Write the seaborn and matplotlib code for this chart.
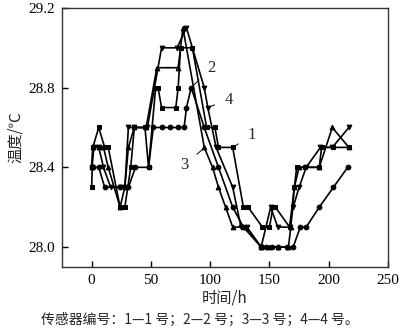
import matplotlib
matplotlib.use("Agg")
import matplotlib.pyplot as plt
import seaborn as sns
import pandas as pd

# Sensor 1 (squares)
t1 = [0, 1, 6, 11, 14, 24, 28, 33, 36, 45, 48, 54, 56, 59, 71, 73, 75, 85, 97, 104, 107, 119,
      128, 132, 144, 150, 153, 155, 167, 171, 173, 180, 192, 194, 204, 217]
v1 = [28.3, 28.5, 28.6, 28.5, 28.5, 28.2, 28.2, 28.4, 28.6, 28.6, 28.4, 28.8, 28.8, 28.7, 28.7, 28.8,
      29.0, 29.0, 28.6, 28.6, 28.5, 28.5, 28.2, 28.2, 28.1, 28.1, 28.2, 28.2, 28.1, 28.3, 28.4, 28.4,
      28.4, 28.5, 28.5, 28.5]
# Sensor 2 (circles)
t2 = [0, 1, 6, 11, 24, 31, 37, 48, 52, 59, 66, 73, 78, 80, 84, 95, 107, 119, 128, 143, 147, 152,
      157, 165, 170, 176, 181, 192, 204, 216]
v2 = [28.4, 28.4, 28.4, 28.3, 28.3, 28.3, 28.4, 28.4, 28.6, 28.6, 28.6, 28.6, 28.6, 28.7, 28.8, 28.6,
      28.4, 28.2, 28.1, 28.0, 28.0, 28.0, 28.0, 28.0, 28.0, 28.1, 28.1, 28.2, 28.3, 28.4]
# Sensor 3 (up triangles)
t3 = [0, 1, 6, 10, 14, 24, 28, 31, 36, 46, 55, 73, 77, 95, 102, 107, 113, 119, 130, 143, 150, 157,
      166, 168, 171, 175, 192, 203, 217]
v3 = [28.4, 28.5, 28.5, 28.5, 28.4, 28.2, 28.3, 28.5, 28.6, 28.6, 28.9, 28.9, 29.1, 28.5, 28.4, 28.3,
      28.2, 28.1, 28.1, 28.0, 28.0, 28.0, 28.0, 28.1, 28.3, 28.4, 28.4, 28.6, 28.5]
# Sensor 4 (down triangles)
t4 = [0, 2, 6, 10, 16, 24, 28, 31, 36, 47, 59, 72, 80, 95, 98, 105, 119, 126, 131, 143, 151, 157,
      167, 170, 175, 181, 193, 203, 217]
v4 = [28.4, 28.5, 28.5, 28.4, 28.3, 28.3, 28.3, 28.6, 28.6, 28.6, 29.0, 29.0, 29.1, 28.8, 28.7, 28.5,
      28.3, 28.1, 28.1, 28.0, 28.2, 28.1, 28.1, 28.2, 28.3, 28.4, 28.5, 28.5, 28.6]

sensors = ["1", "2", "3", "4"]
series = [(t1, v1), (t2, v2), (t3, v3), (t4, v4)]

frames = []
for name, (t, v) in zip(sensors, series):
    frames.append(pd.DataFrame({"t": t, "T": v, "sensor": name}))
df = pd.concat(frames, ignore_index=True)

sns.set_theme(style="ticks")
plt.rcParams["font.family"] = ["Liberation Serif", "Noto Sans CJK SC"]
plt.rcParams["axes.linewidth"] = 1.0

fig = plt.figure(figsize=(4.0, 3.32), dpi=100)
ax = fig.add_axes([0.155, 0.196, 0.815, 0.78])

sns.lineplot(data=df, x="t", y="T", style="sensor", units="sensor", estimator=None, sort=False,
             markers={"1": "s", "2": "o", "3": "^", "4": "v"}, dashes=False,
             color="black", linewidth=1.2, markersize=3.4, markeredgecolor="black",
             legend=False, ax=ax)

ax.set_xlim(-25, 250)
ax.set_ylim(27.9, 29.2)
ax.set_xticks([0, 50, 100, 150, 200, 250])
ax.set_yticks([28.0, 28.4, 28.8, 29.2])
ax.set_yticklabels(["28.0", "28.4", "28.8", "29.2"])
ax.tick_params(direction="in", length=4, width=1, labelsize=11, colors="black", pad=5)
for s in ax.spines.values():
    s.set_color("#333333")

cjk = ["Noto Sans CJK SC", "DejaVu Sans"]
ax.set_xlabel("时间/h", family=cjk, fontsize=11, labelpad=2)
ax.set_ylabel("温度/℃", family=cjk, fontsize=11, labelpad=3)

# Curve labels with leader lines
notes = [("1", (119, 28.5), (135, 28.56)),
         ("2", (84, 28.8), (101, 28.9)),
         ("4", (97.7, 28.7), (115.5, 28.74)),
         ("3", (95.5, 28.5), (78, 28.41))]
for txt, xy, xytext in notes:
    ax.annotate(txt, xy=xy, xytext=xytext, fontsize=12, ha="center", va="center",
                arrowprops=dict(arrowstyle="-", color="black", lw=0.7, shrinkA=5, shrinkB=0))

fig.text(0.5, 0.035, "传感器编号：1—1 号；2—2 号；3—3 号；4—4 号。", family=cjk,
         fontsize=10, ha="center", va="center")

fig.savefig("out.png", dpi=100)
